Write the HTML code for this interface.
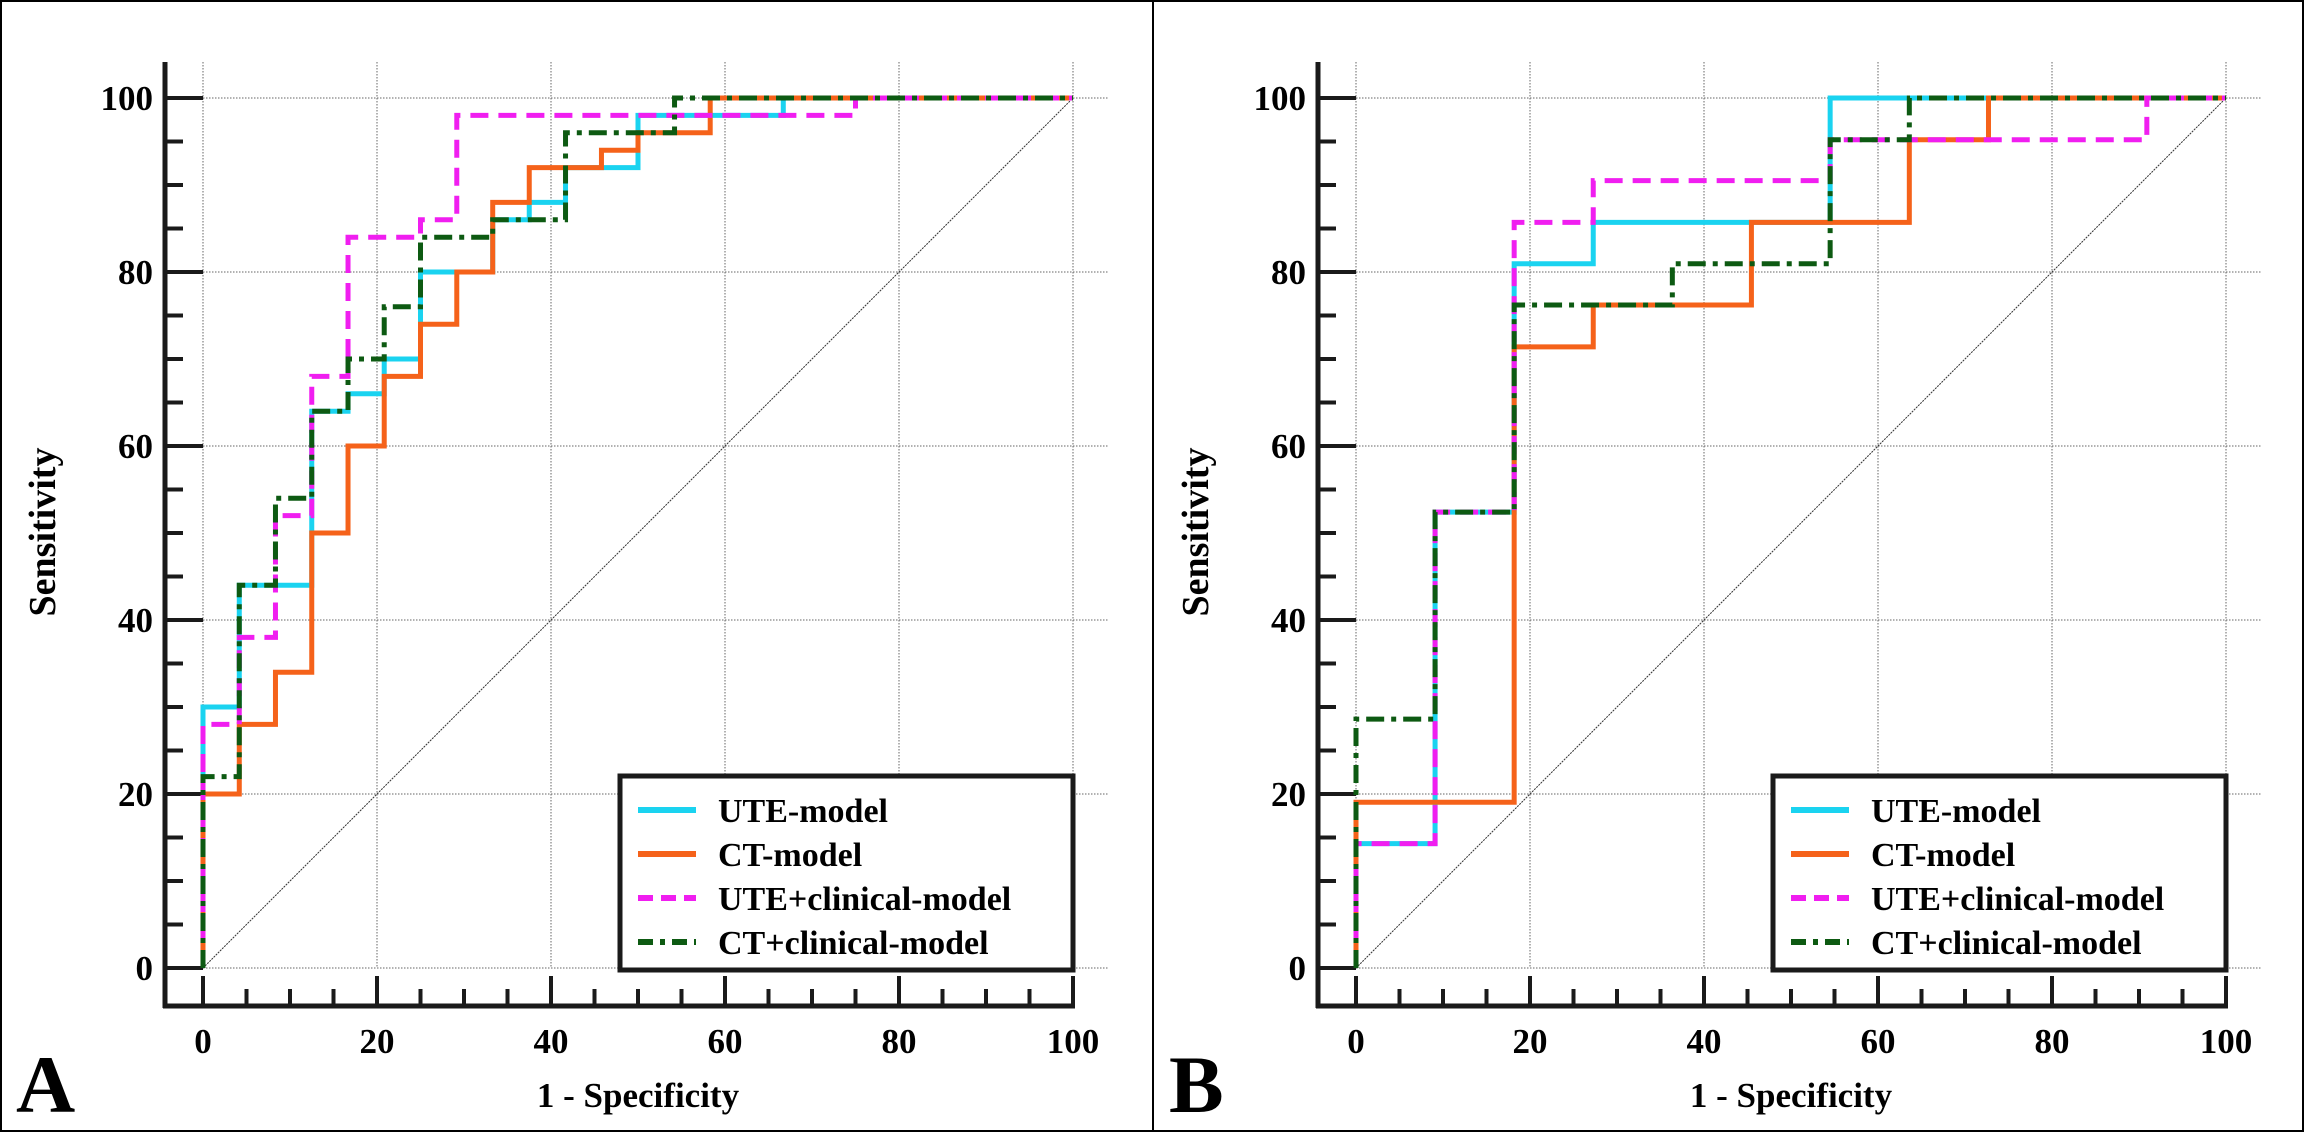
<!DOCTYPE html>
<html><head><meta charset="utf-8"><style>
html,body{margin:0;padding:0;background:#fff;}
svg{display:block;font-family:"Liberation Serif",serif;font-weight:bold;}
</style></head><body>
<svg id="fig" width="2304" height="1132" viewBox="0 0 2304 1132" xmlns="http://www.w3.org/2000/svg">
<rect x="1" y="1" width="2302" height="1130" fill="#fff" stroke="#000" stroke-width="2"/>
<line x1="1153" y1="0" x2="1153" y2="1132" stroke="#000" stroke-width="2"/>
</svg>
<script>
// Panel A data (x = 1 - specificity %, y = sensitivity %)
const seriesNames = ["UTE-model","CT-model","UTE+clinical-model","CT+clinical-model"];
const aUteX = [0,0,4.17,12.5,16.67,20.83,25,33.3,37.5,41.67,50,66.7,100];
const aUteY = [0,30,44,64,66,70,80,86,88,92,98,100,100];
const aCtX = [0,0,4.17,8.33,12.5,16.67,20.83,25,29.17,33.3,37.5,45.8,50,58.3,100];
const aCtY = [0,20,28,34,50,60,68,74,80,88,92,94,96,100,100];
const aUteClX = [0,0,4.17,8.33,12.5,16.67,25,29.17,75,100];
const aUteClY = [0,28,38,52,68,84,86,98,100,100];
const aCtClX = [0,0,4.17,8.33,12.5,16.67,20.83,25,33.3,41.67,54.2,100];
const aCtClY = [0,22,44,54,64,70,76,84,86,96,100,100];
// Panel B data
const bUteX = [0,0,9.09,18.18,27.27,54.5,100];
const bUteY = [0,14.3,52.4,80.95,85.7,100,100];
const bCtX = [0,0,18.18,27.27,45.45,63.6,72.7,100];
const bCtY = [0,19.05,71.4,76.2,85.7,95.2,100,100];
const bUteClX = [0,0,9.09,18.18,27.27,54.5,90.9,100];
const bUteClY = [0,14.3,52.4,85.7,90.5,95.2,100,100];
const bCtClX = [0,0,9.09,18.18,36.36,54.5,63.6,100];
const bCtClY = [0,28.6,52.4,76.2,80.95,95.2,100,100];
const tickLabels = [0,20,40,60,80,100];

const NS = "http://www.w3.org/2000/svg";
const svg = document.getElementById('fig');
const styles = [
  {c:"#1ad3f0", d:null, name:"ute-model"},
  {c:"#f5621a", d:null, name:"ct-model"},
  {c:"#f01ef0", d:"18 10", name:"ute-clinical-model"},
  {c:"#0d5a12", d:"18 7 5 7", name:"ct-clinical-model"}
];
function mk(tag, attrs, parent){
  const e = document.createElementNS(NS, tag);
  for (const k in attrs) e.setAttribute(k, attrs[k]);
  parent.appendChild(e); return e;
}
function panel(x0, label, data, pid){
  const g = mk('g', {}, svg);
  
  
  const sx = v => x0 + v * 8.7;
  const sy = v => 968 - v * 8.7;
  const axX = x0 - 38;
  for (const t of tickLabels){
    const gv = mk('line', {x1:sx(t), y1:62, x2:sx(t), y2:sy(0), stroke:"#666", 'stroke-width':1, 'stroke-dasharray':"1.5 1.5"}, g);
    
    
    const gh = mk('line', {x1:sx(0), y1:sy(t), x2:sx(104), y2:sy(t), stroke:"#666", 'stroke-width':1, 'stroke-dasharray':"1.5 1.5"}, g);
    
    
  }
  const diag = mk('line', {x1:sx(0), y1:sy(0), x2:sx(100), y2:sy(100), stroke:"#333", 'stroke-width':1, 'stroke-dasharray':"2 1"}, g);
  
  
  const ya = mk('line', {x1:axX, y1:62, x2:axX, y2:1008, stroke:"#1a1a1a", 'stroke-width':5}, g);
  
  
  const xa = mk('line', {x1:axX-2, y1:1006, x2:sx(100)+2, y2:1006, stroke:"#1a1a1a", 'stroke-width':5}, g);
  
  
  for (let v = 0; v <= 100; v += 5){
    const major = v % 20 === 0;
    const ty = mk('line', {x1:axX, y1:sy(v), x2:axX + (major?38:18), y2:sy(v), stroke:"#1a1a1a", 'stroke-width':4}, g);
    
    
    const tx = mk('line', {x1:sx(v), y1:1006, x2:sx(v), y2:1006 - (major?30:17), stroke:"#1a1a1a", 'stroke-width':4}, g);
    
    
  }
  for (const t of tickLabels){
    const yl = mk('text', {x:axX-12, y:sy(t)+12, 'text-anchor':'end', 'font-size':35}, g);
    yl.textContent = t;
    
    
    const xl = mk('text', {x:sx(t), y:1053, 'text-anchor':'middle', 'font-size':35}, g);
    xl.textContent = t;
    
    
  }
  const yt = mk('text', {x:0, y:0, 'text-anchor':'middle', 'font-size':38, transform:`translate(${x0-148},532) rotate(-90)`}, g);
  yt.textContent = "Sensitivity";
  
  
  const xt = mk('text', {x:sx(50), y:1107, 'text-anchor':'middle', 'font-size':35}, g);
  xt.textContent = "1 - Specificity";
  
  
  const pl = mk('text', {x:x0-187, y:1112, 'font-size':82}, g);
  pl.textContent = label;
  
  
  data.forEach((s, i) => {
    let d = "M" + sx(s[0][0]) + "," + sy(s[1][0]);
    for (let k = 1; k < s[0].length; k++){
      d += " L" + sx(s[0][k]) + "," + sy(s[1][k-1]) + " L" + sx(s[0][k]) + "," + sy(s[1][k]);
    }
    const at = {d:d, fill:"none", stroke:styles[i].c, 'stroke-width':5, 'stroke-linejoin':'miter', 'stroke-linecap':'butt'};
    if (styles[i].d) at['stroke-dasharray'] = styles[i].d;
    const p = mk('path', at, g);
    
    
  });
  const lx = x0 + 417, ly = 776;
  const lg = mk('g', {}, g);
  
  
  mk('rect', {x:lx, y:ly, width:453, height:194, fill:"#fff", stroke:"#1a1a1a", 'stroke-width':5}, lg);
  seriesNames.forEach((n, i) => {
    const yy = ly + 34 + i * 44;
    const at = {x1:lx+18, y1:yy, x2:lx+76, y2:yy, stroke:styles[i].c, 'stroke-width':6};
    if (styles[i].d) at['stroke-dasharray'] = i===2 ? "15 8" : "15 7 5 7";
    const sw = mk('line', at, lg);
    
    
    const tt = mk('text', {x:lx+98, y:yy+12, 'font-size':34}, lg);
    tt.textContent = n;
    
    
  });
}
panel(203, "A", [[aUteX,aUteY],[aCtX,aCtY],[aUteClX,aUteClY],[aCtClX,aCtClY]], "a");
panel(1356, "B", [[bUteX,bUteY],[bCtX,bCtY],[bUteClX,bUteClY],[bCtClX,bCtClY]], "b");
</script>
</body></html>
